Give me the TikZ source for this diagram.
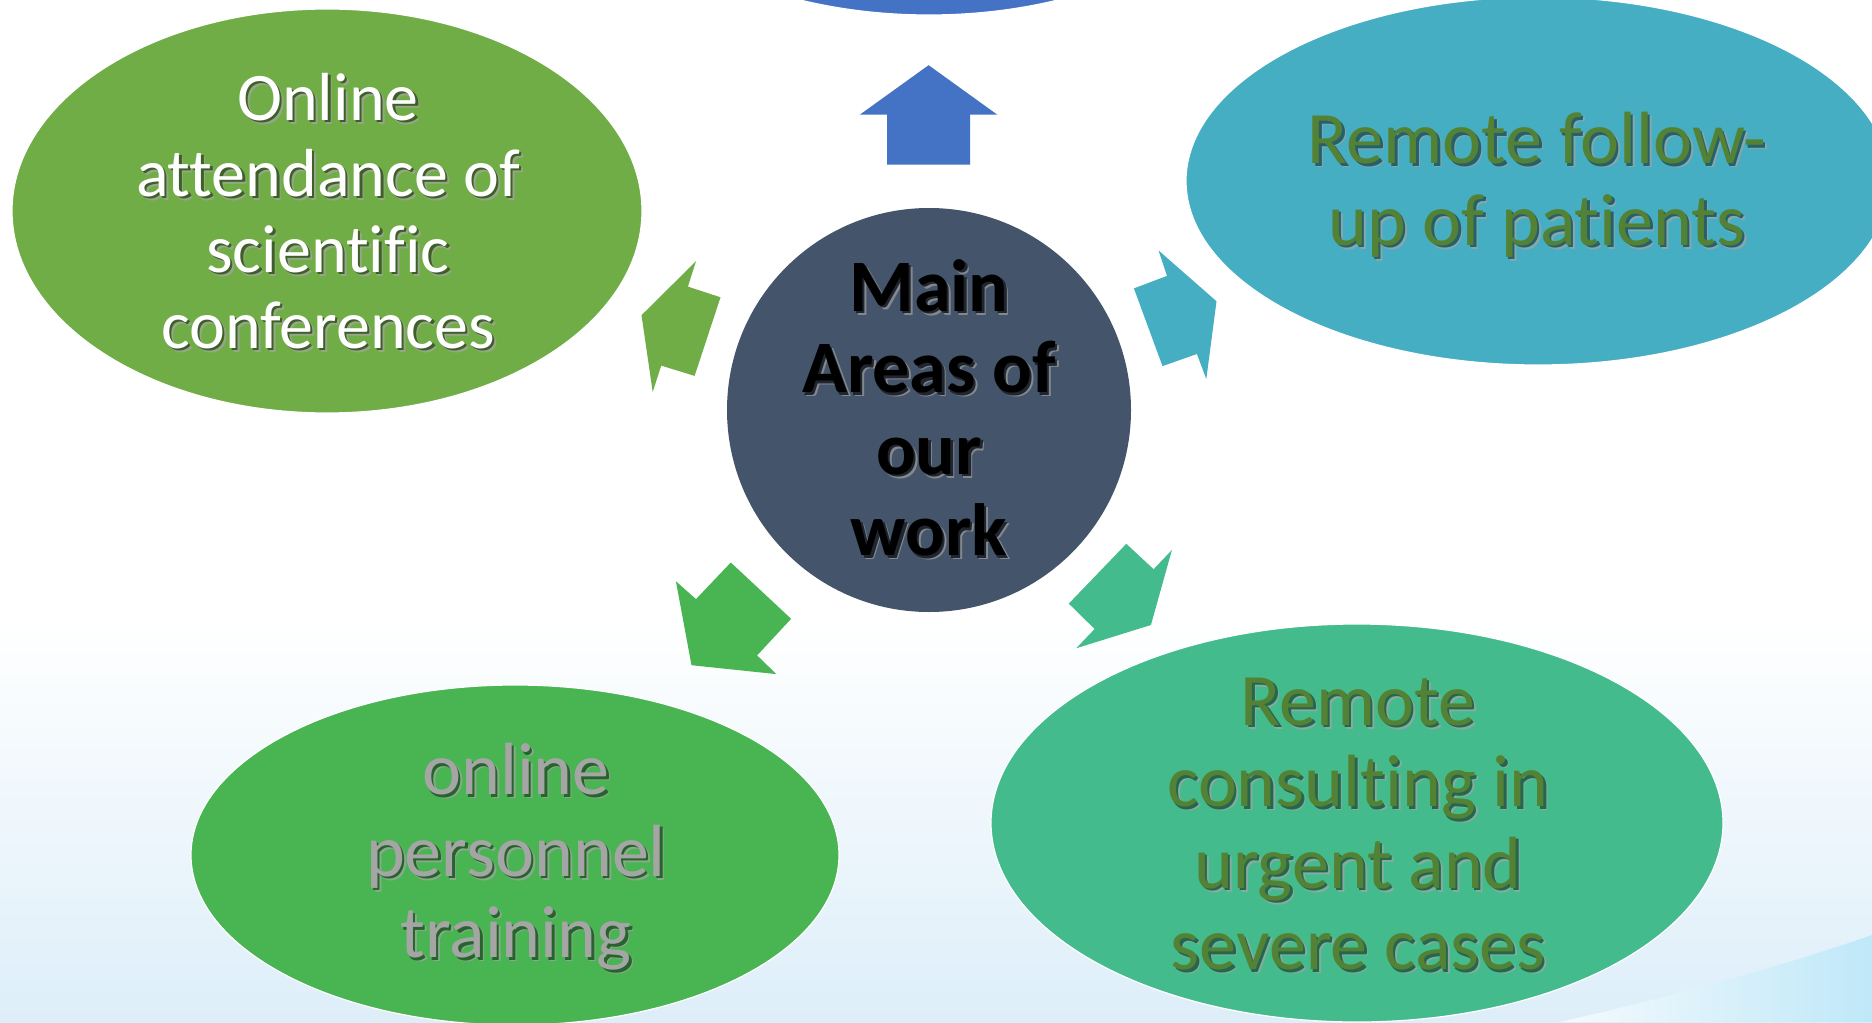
\documentclass[tikz,border=0pt]{standalone}
\usepackage{fontspec}
\setmainfont{Carlito}[Ligatures={NoCommon,NoContextual}]
\usetikzlibrary{shapes.geometric}
\definecolor{cTop}{HTML}{4472C4}
\definecolor{cLeft}{HTML}{70AD47}
\definecolor{cTeal}{HTML}{45AEC2}
\definecolor{cCenter}{HTML}{44546A}
\definecolor{cBL}{HTML}{48B452}
\definecolor{cBR}{HTML}{44BB8D}
\definecolor{cOlive}{HTML}{548235}
\definecolor{cGray}{HTML}{A5A5A5}
\definecolor{bgBlue}{HTML}{DDEEF9}
\definecolor{bgCyan}{HTML}{BFE8F8}
% text with a soft drop shadow, in one box
\newcommand\sh[2]{%
  \makebox[0pt][l]{\hspace{2.0pt}\raisebox{-2.0pt}[0pt][0pt]{\textcolor{#1!55}{#2}}}%
  \makebox[0pt][l]{\hspace{1.2pt}\raisebox{-1.2pt}[0pt][0pt]{\textcolor{#1}{#2}}}#2}
\colorlet{shLeft}{black!45!cLeft}
\colorlet{shTeal}{black!45!cTeal}
\colorlet{shBL}{black!45!cBL}
\colorlet{shBR}{black!45!cBR}
\colorlet{shMain}{black!55!cCenter}
\begin{document}
\begin{tikzpicture}[x=0.5pt,y=-0.5pt,
  blob/.style={ellipse, draw=white, line width=0.6pt, inner sep=0pt},
  lbl/.style={align=center, inner sep=0pt, font=\fontsize{37}{40.75}\selectfont},
  lblsmall/.style={align=center, inner sep=0pt, font=\fontsize{34}{38}\selectfont},
  lblbold/.style={align=center, inner sep=0pt, font=\bfseries\fontsize{37}{40.75}\selectfont}]
\useasboundingbox (0,0) rectangle (1872,1022);
% background
\fill[white] (0,0) rectangle (1872,1022);
\shade[top color=white, bottom color=bgBlue] (0,620) rectangle (1872,1022);
\shade[left color=bgBlue!30, right color=bgCyan]
  (1560,1022) .. controls (1700,990) and (1800,960) .. (1872,935) -- (1872,1022) -- cycle;
% shapes
\node[blob, fill=cTop, minimum width=330pt, minimum height=190pt] (top) at (929,-175) {};
\node[blob, fill=cLeft, minimum width=315pt, minimum height=202pt] (conf) at (327,211) {};
\node[blob, fill=cTeal, minimum width=352pt, minimum height=184pt] (follow) at (1538,181) {};
\node[blob, fill=cBL, minimum width=324pt, minimum height=170pt] (train) at (515,855) {};
\node[blob, fill=cBR, minimum width=366pt, minimum height=199pt] (consult) at (1357,823) {};
\node[circle, fill=cCenter, minimum size=202pt, inner sep=0pt] (main) at (929,410) {};
% block arrows
\fill[cTop] (928.6,65.2) -- (997.3,114.7) -- (970.1,114.7) -- (970.1,164.7)
  -- (887.1,164.7) -- (887.1,114.7) -- (859.8,114.7) -- cycle;
\fill[cLeft] (696.0,261.2) -- (687.9,286.6) -- (720.5,297.3) -- (694.6,375.9)
  -- (661.2,365.6) -- (652.7,392.0) -- (641.5,315.2) -- cycle;
\fill[cTeal] (1158.5,250.4) -- (1167.0,275.9) -- (1133.9,288.4) -- (1162.5,366.1)
  -- (1196.9,354.0) -- (1206.3,379.0) -- (1216.5,301.3) -- cycle;
\fill[cBR] (1126.3,543.8) -- (1153.6,569.2) -- (1171.9,550.0) -- (1150.9,625.0)
  -- (1076.3,648.2) -- (1094.6,629.0) -- (1068.8,603.6) -- cycle;
\fill[cBL] (730.8,562.5) -- (791.1,618.8) -- (757.1,655.4) -- (776.3,674.1)
  -- (691.5,665.2) -- (675.9,581.3) -- (696.0,599.1) -- cycle;
% texts
\node[lblsmall, text=white] (tconf) at (328,211)
  {\sh{shLeft}{Online}\\\sh{shLeft}{attendance of}\\\sh{shLeft}{scientific}\\\sh{shLeft}{conferences}};
\node[lbl, text=cOlive] (tfollow) at (1537,185)
  {\sh{shTeal}{Remote follow-}\\\sh{shTeal}{up of patients}};
\node[lbl, text=cGray] (ttrain) at (516,857)
  {\sh{shBL}{online}\\\sh{shBL}{personnel}\\\sh{shBL}{training}};
\node[lbl, text=cOlive] (tconsult) at (1358,824)
  {\sh{shBR}{Remote}\\\sh{shBR}{consulting in}\\\sh{shBR}{urgent and}\\\sh{shBR}{severe cases}};
\node[lblbold, text=black] (tmain) at (929,408)
  {\sh{shMain}{Main}\\\sh{shMain}{Areas of}\\\sh{shMain}{our}\\\sh{shMain}{work}};
\end{tikzpicture}
\end{document}
